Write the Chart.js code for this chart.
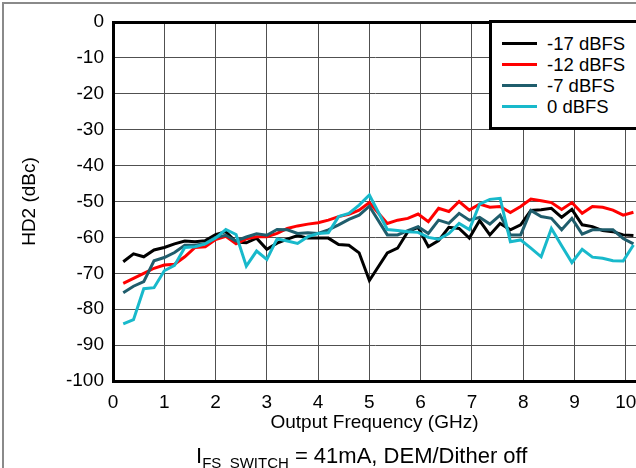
<!DOCTYPE html>
<html>
<head>
<meta charset="utf-8">
<script src="https://cdn.jsdelivr.net/npm/chart.js@4.4.1/dist/chart.umd.min.js"></script>
<style>
html,body{margin:0;padding:0;background:#fff;overflow:hidden;width:636px;height:468px;}
#wrap{position:relative;width:636px;height:468px;overflow:hidden;font-family:"Liberation Sans",Arial,sans-serif;color:#000;}
#frame{position:absolute;left:2px;top:2px;width:700px;height:600px;border-top:2px solid #8a8a8a;border-left:2px solid #8a8a8a;}
#c{position:absolute;left:0;top:0;}
#legend{position:absolute;left:489px;top:20px;width:200px;height:110px;box-sizing:border-box;border:3px solid #000;background:#fff;}
.lg-line{position:absolute;left:10px;width:35px;height:3px;}
.lg-text{position:absolute;left:55px;height:21px;line-height:21px;font-size:18.5px;white-space:nowrap;}
#sub{position:absolute;left:196px;top:445px;font-size:22px;line-height:22px;white-space:nowrap;}
#sub sub{font-size:15px;vertical-align:-5px;line-height:0;}
</style>
</head>
<body>
<div id="wrap">
  <div id="frame"></div>
  <canvas id="c" width="636" height="468"></canvas>
  <div id="legend"></div>
  <div id="sub">I<sub>FS_SWITCH</sub> = 41mA, DEM/Dither off</div>
</div>
<script>
// ---- data ----
const freqGHz = [0.2,0.4,0.6,0.8,1.0,1.2,1.4,1.6,1.8,2.0,2.2,2.4,2.6,2.8,3.0,3.2,3.4,3.6,3.8,4.0,4.2,4.4,4.6,4.8,5.0,
  5.35,5.55,5.75,5.95,6.15,6.35,6.55,6.75,6.95,7.15,7.35,7.55,7.75,7.95,8.15,8.35,8.55,8.75,8.95,9.15,9.35,9.55,9.75,9.95,10.15];

const hd2_m17dBFS = [-66.8,-64.6,-65.4,-63.5,-62.8,-61.8,-61.0,-61.2,-60.9,-59.2,-58.4,-61.3,-61.5,-60.2,-63.3,-61.6,-60.5,-59.5,-60.2,-60.2,-60.2,-62.0,-62.2,-64.3,-72.0,
  -64.3,-63.0,-58.4,-57.2,-62.6,-60.9,-57.2,-57.5,-60.2,-55.3,-59.3,-56.1,-57.9,-56.5,-52.5,-52.3,-51.9,-54.4,-52.2,-56.5,-57.0,-58.1,-58.4,-59.3,-59.5];

const hd2_m12dBFS = [-72.8,-71.4,-70.0,-68.6,-67.7,-67.5,-65.4,-62.8,-62.6,-60.6,-59.7,-61.8,-60.4,-59.8,-59.8,-58.9,-57.5,-56.8,-56.3,-55.9,-55.2,-54.2,-53.6,-52.4,-50.3,
  -56.1,-55.2,-54.7,-53.5,-55.6,-51.9,-52.8,-50.0,-52.4,-50.7,-51.6,-51.4,-53.1,-51.4,-49.3,-49.8,-50.3,-52.2,-50.3,-53.3,-51.4,-51.6,-52.4,-53.8,-53.0];

const hd2_m7dBFS = [-75.4,-73.6,-72.3,-66.5,-65.6,-64.2,-62.2,-62.2,-61.7,-60.0,-59.4,-61.0,-59.9,-59.0,-59.4,-57.8,-57.9,-58.9,-58.7,-58.9,-57.9,-56.5,-55.0,-53.8,-51.3,
  -59.3,-59.3,-58.1,-57.0,-58.9,-55.2,-56.1,-53.3,-55.2,-54.4,-56.3,-53.8,-59.3,-59.3,-52.5,-54.2,-54.7,-57.9,-54.7,-59.1,-57.9,-57.9,-57.9,-60.3,-61.8];

const hd2_0dBFS = [-84.1,-82.9,-74.3,-74.0,-69.3,-67.8,-62.8,-62.6,-61.8,-60.2,-57.8,-59.2,-68.0,-63.8,-66.1,-60.4,-61.0,-61.7,-59.8,-58.9,-58.7,-54.2,-53.3,-51.0,-48.2,
  -57.8,-58.1,-58.4,-58.6,-60.0,-60.5,-58.9,-56.1,-57.8,-50.7,-49.4,-49.1,-61.2,-60.7,-63.0,-65.4,-57.5,-62.3,-67.0,-63.3,-65.5,-65.8,-66.5,-66.6,-62.1];

const seriesLabels = ['-17 dBFS','-12 dBFS','-7 dBFS','0 dBFS'];
const xTicks = [0,1,2,3,4,5,6,7,8,9,10];
const yTicks = [0,-10,-20,-30,-40,-50,-60,-70,-80,-90,-100];

// ---- styles ----
const colors = ['#000000','#ff0000','#1f5d6c','#18b9cb'];
const seriesData = [hd2_m17dBFS, hd2_m12dBFS, hd2_m7dBFS, hd2_0dBFS];
const drawOrder = [4,3,2,1];

const datasets = seriesData.map((arr, i) => ({
  label: seriesLabels[i],
  data: arr.map((v, k) => ({x: freqGHz[k], y: v})),
  borderColor: colors[i],
  backgroundColor: colors[i],
  borderWidth: 3,
  pointRadius: 0,
  tension: 0,
  fill: false,
  order: drawOrder[i]
}));

const FONT = '"Liberation Sans", Arial, sans-serif';

const chart = new Chart(document.getElementById('c'), {
  type: 'line',
  data: { datasets },
  options: {
    responsive: false,
    animation: false,
    layout: { padding: { left: 18, top: 22, right: 0, bottom: 33.6 } },
    plugins: { legend: { display: false }, tooltip: { enabled: false } },
    scales: {
      x: {
        type: 'linear',
        min: 0, max: 10.2,
        afterBuildTicks: (ax) => { ax.ticks = xTicks.map(v => ({ value: v })); },
        afterFit: (ax) => { ax.height = 53.4; ax.paddingLeft = 0; ax.paddingRight = 0; },
        ticks: { color: '#000', font: { family: FONT, size: 19 }, padding: 10, maxRotation: 0, autoSkip: false },
        grid: { color: '#505050', lineWidth: 1, drawTicks: false },
        border: { display: true, color: '#000', width: 3 },
        title: { display: true, text: 'Output Frequency (GHz)', color: '#000', font: { family: FONT, size: 19 }, padding: 0 }
      },
      y: {
        type: 'linear',
        min: -100, max: 0,
        afterBuildTicks: (ax) => { ax.ticks = yTicks.slice().reverse().map(v => ({ value: v })); },
        afterFit: (ax) => { ax.width = 95; ax.paddingTop = 0; ax.paddingBottom = 0; },
        ticks: { color: '#000', font: { family: FONT, size: 19 }, padding: 9 },
        grid: {
          drawTicks: false,
          color: (ctx) => (ctx.tick && ctx.tick.value === 0) ? '#000' : '#505050',
          lineWidth: (ctx) => (ctx.tick && ctx.tick.value === 0) ? 3 : 1
        },
        border: { display: true, color: '#000', width: 3 },
        title: { display: true, text: 'HD2 (dBc)', color: '#000', font: { family: FONT, size: 19 }, padding: 0 }
      }
    }
  }
});

// ---- HTML legend built from the chart's datasets ----
const lg = document.getElementById('legend');
const rowCenters = [20, 41, 62, 83];
chart.data.datasets.forEach((ds, i) => {
  const ln = document.createElement('div');
  ln.className = 'lg-line';
  ln.style.top = (rowCenters[i] - 1.5) + 'px';
  ln.style.background = ds.borderColor;
  lg.appendChild(ln);
  const tx = document.createElement('div');
  tx.className = 'lg-text';
  tx.style.top = (rowCenters[i] - 10.5) + 'px';
  tx.textContent = ds.label;
  lg.appendChild(tx);
});
</script>
</body>
</html>
